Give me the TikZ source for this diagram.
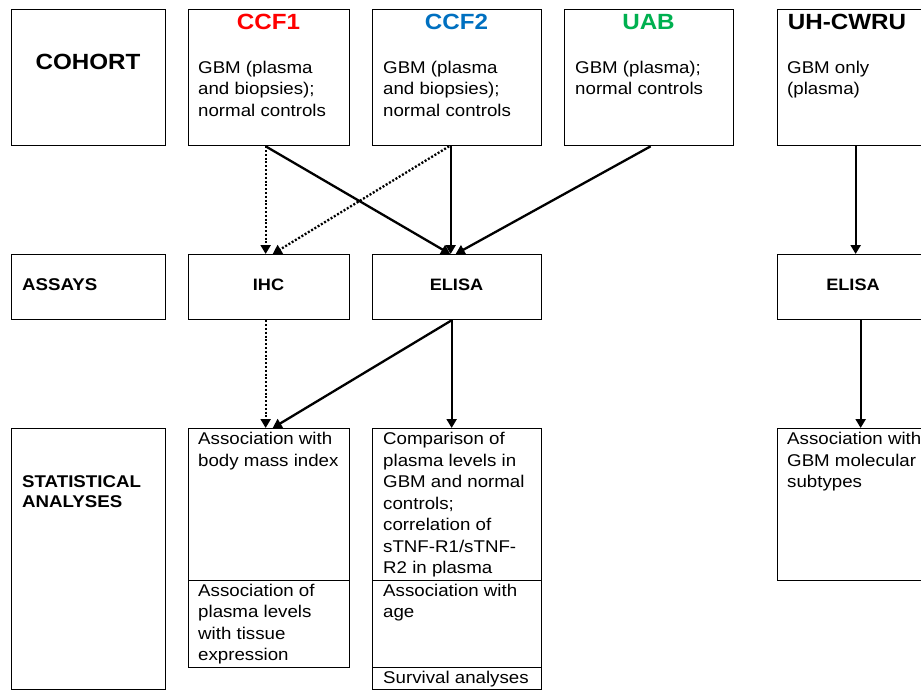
\documentclass[tikz,border=0pt]{standalone}
\usepackage{fontspec}
\setmainfont{Liberation Sans}[FakeStretch=1.1]
\usetikzlibrary{arrows.meta}
\definecolor{ccfred}{RGB}{255,0,0}
\definecolor{ccfblue}{RGB}{0,112,192}
\definecolor{uabgreen}{RGB}{0,176,80}
\newcommand\fstrut{\rule{0pt}{15pt}}
\begin{document}
\begin{tikzpicture}[x=1pt,y=-1pt,
  box/.style={draw, line width=1.3pt, rectangle, inner sep=0, anchor=north west},
  body/.style={inner sep=0, anchor=north west, align=left, font=\fontsize{17}{21.5}\selectfont},
  title/.style={inner sep=0, anchor=base, font=\fontsize{22}{26}\selectfont\bfseries},
  rowlabel/.style={inner sep=0, anchor=north west, align=left, font=\fontsize{17}{20.5}\selectfont\bfseries},
  assay/.style={inner sep=0, anchor=base, font=\fontsize{16.5}{20}\selectfont\bfseries},
  solidarrow/.style={line width=2.3pt, -{Triangle[length=9pt,width=10pt]}},
  dotarrow/.style={line width=2.3pt, dash pattern=on 2pt off 1.8pt, -{Triangle[length=9pt,width=10pt]}}]
\useasboundingbox (0,0) rectangle (921,690);
\clip (0,0) rectangle (921,690);
% row 1
\node[box, minimum width=154pt, minimum height=136pt] (cohort) at (11,9) {};
\node[box, minimum width=161pt, minimum height=136pt] (ccf1) at (188,9) {};
\node[box, minimum width=169pt, minimum height=136pt] (ccf2) at (372,9) {};
\node[box, minimum width=169pt, minimum height=136pt] (uab) at (564,9) {};
\node[box, minimum width=169pt, minimum height=136pt] (uh) at (777,9) {};
\node[title] (tcohort) at (88,70) {COHORT};
\node[title, text=ccfred] (tccf1) at (268.5,29.3) {CCF1};
\node[title, text=ccfblue] (tccf2) at (456.5,29.3) {CCF2};
\node[title, text=uabgreen] (tuab) at (648.5,29.3) {UAB};
\node[title] (tuh) at (847,29.3) {UH-CWRU};
\node[body] (bccf1) at (198,58) {\fstrut GBM (plasma\\and biopsies);\\normal controls};
\node[body] (bccf2) at (383,58) {\fstrut GBM (plasma\\and biopsies);\\normal controls};
\node[body] (buab) at (575,58) {\fstrut GBM (plasma);\\normal controls};
\node[body] (buh) at (787,58) {\fstrut GBM only\\(plasma)};
% row 2
\node[box, minimum width=154pt, minimum height=65pt] (assays) at (11,254) {};
\node[box, minimum width=161pt, minimum height=65pt] (ihc) at (188,254) {};
\node[box, minimum width=169pt, minimum height=65pt] (elisa) at (372,254) {};
\node[box, minimum width=169pt, minimum height=65pt] (elisab) at (777,254) {};
\node[rowlabel, anchor=base west] (tassays) at (22,290) {ASSAYS};
\node[assay] (tihc) at (268.5,290) {IHC};
\node[assay] (telisa) at (456.5,290) {ELISA};
\node[assay] (telisab) at (853,290) {ELISA};
% row 3
\node[box, minimum width=154pt, minimum height=261pt] (stat) at (11,428) {};
\node[rowlabel] (tstat) at (22,472) {\fstrut STATISTICAL\\ANALYSES};
\node[box, minimum width=161pt, minimum height=152pt] (anaA) at (188,428) {};
\node[box, minimum width=161pt, minimum height=87pt] (anaA2) at (188,580) {};
\node[box, minimum width=169pt, minimum height=152pt] (anaB) at (372,428) {};
\node[box, minimum width=169pt, minimum height=87pt] (anaB2) at (372,580) {};
\node[box, minimum width=169pt, minimum height=22pt] (anaB3) at (372,667) {};
\node[box, minimum width=169pt, minimum height=152pt] (anaC) at (777,428) {};
\node[body] (tanaA) at (198,429.5) {\fstrut Association with\\body mass index};
\node[body] (tanaA2) at (198,581) {\fstrut Association of\\plasma levels\\with tissue\\expression};
\node[body] (tanaB) at (383,429.5) {\fstrut Comparison of\\plasma levels in\\GBM and normal\\controls;\\correlation of\\sTNF-R1/sTNF-\\R2 in plasma};
\node[body] (tanaB2) at (383,581) {\fstrut Association with\\age};
\node[body] (tanaB3) at (383,668) {\fstrut Survival analyses};
\node[body] (tanaC) at (787,429.5) {\fstrut Association with\\GBM molecular\\subtypes};
% connectors
\draw[dotarrow] ([xshift=-3.5pt]ccf1.south) -- ([xshift=-3.5pt]ihc.north);
\draw[solidarrow] ([xshift=-3.5pt]ccf1.south) -- ([xshift=-7pt]elisa.north);
\draw[dotarrow] ([xshift=-8pt]ccf2.south) -- ([xshift=3.5pt]ihc.north);
\draw[solidarrow] ([xshift=-6.5pt]ccf2.south) -- ([xshift=-6.5pt]elisa.north);
\draw[solidarrow] ([xshift=1.5pt]uab.south) -- ([xshift=-1.5pt]elisa.north);
\draw[solidarrow] ([xshift=-6.5pt]uh.south) -- ([xshift=-6.5pt]elisab.north);
\draw[dotarrow] ([xshift=-3.5pt]ihc.south) -- ([xshift=-3.5pt]anaA.north);
\draw[solidarrow] ([xshift=-5.5pt]elisa.south) -- ([xshift=3.5pt]anaA.north);
\draw[solidarrow] ([xshift=-5.5pt]elisa.south) -- ([xshift=-5.5pt]anaB.north);
\draw[solidarrow] ([xshift=-1.5pt]elisab.south) -- ([xshift=-1.5pt]anaC.north);
\end{tikzpicture}
\end{document}
